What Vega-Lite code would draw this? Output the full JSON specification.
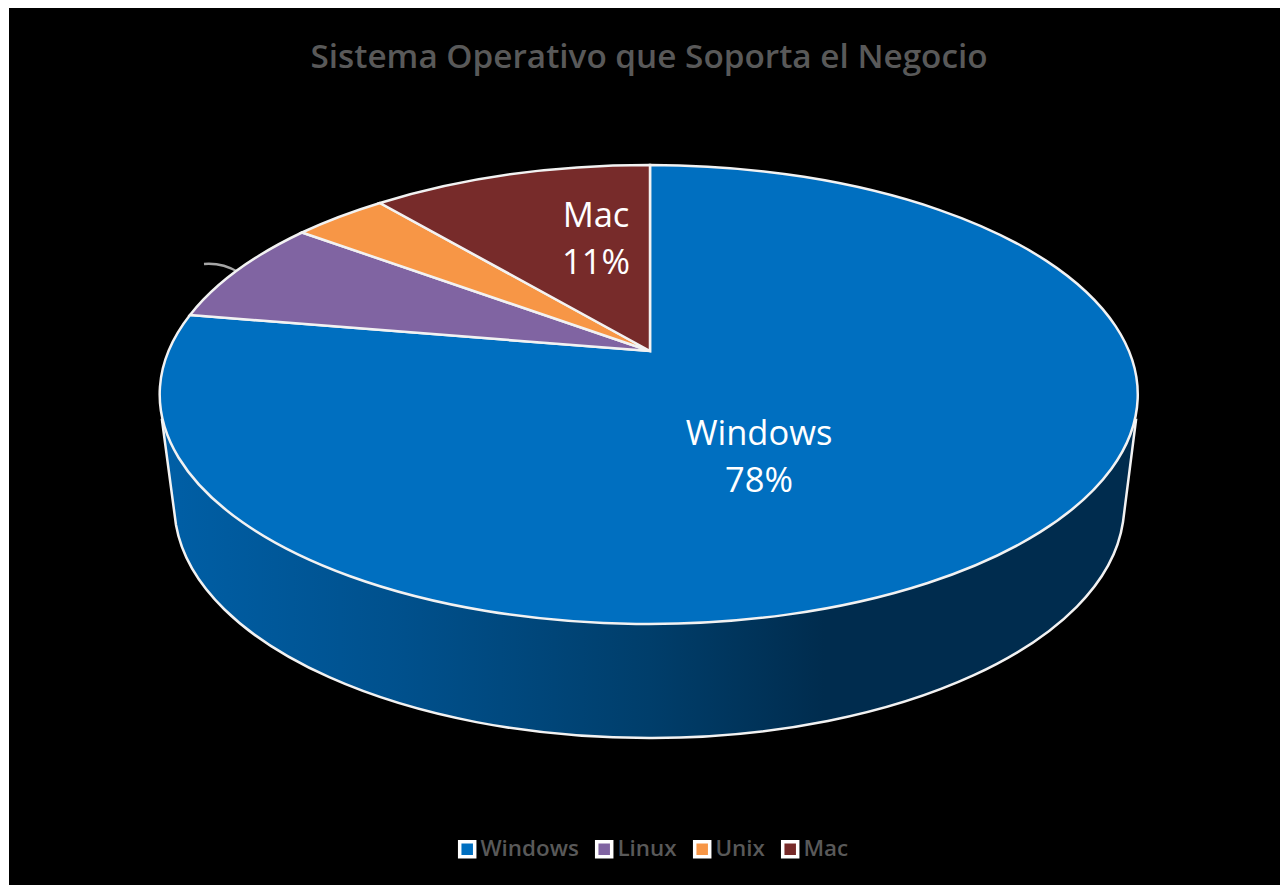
{
  "$schema": "https://vega.github.io/schema/vega-lite/v6.json",
  "width": 1271,
  "height": 877,
  "autosize": {"type": "none"},
  "padding": {"left": 9, "top": 8, "right": 0, "bottom": 0},
  "background": "white",
  "view": {"fill": "black", "stroke": null},
  "title": {
    "text": "Sistema Operativo que Soporta el Negocio",
    "anchor": "middle",
    "dx": 4.5,
    "offset": -83,
    "baseline": "middle",
    "font": "Open Sans",
    "fontSize": 33.3,
    "fontWeight": 600,
    "color": "#595959"
  },
  "data": {
    "values": [
      {"os": "Windows", "share": 0.78},
      {"os": "Linux", "share": 0.08},
      {"os": "Unix", "share": 0.04},
      {"os": "Mac", "share": 0.11}
    ]
  },
  "encoding": {
    "color": {
      "field": "os",
      "type": "nominal",
      "sort": ["Windows", "Linux", "Unix", "Mac"],
      "scale": {
        "domain": ["Windows", "Linux", "Unix", "Mac"],
        "range": ["#006fc0", "#8064a2", "#f79646", "#772b2a"]
      },
      "legend": {
        "title": null,
        "orient": "none",
        "legendX": 447,
        "legendY": 830,
        "direction": "horizontal",
        "columns": 4,
        "symbolType": "square",
        "symbolSize": 225,
        "symbolStrokeWidth": 3.5,
        "symbolStrokeColor": "white",
        "symbolOpacity": 1,
        "labelFont": "Open Sans",
        "labelFontSize": 22.4,
        "labelFontWeight": 600,
        "labelColor": "#595959",
        "labelOffset": 2,
        "columnPadding": 10,
        "labelLimit": 200
      }
    }
  },
  "layer": [
    {
      "transform": [{"filter": "datum.os === 'Windows'"}],
      "mark": {
        "type": "point",
        "size": 4,
        "filled": true,
        "opacity": 1,
        "stroke": "#f2f2f2",
        "strokeWidth": 2.5,
        "fill": {
          "x1": 0, "y1": 0, "x2": 1, "y2": 0,
          "gradient": "linear",
          "stops": [
            {"offset": 0, "color": "#005fa6"},
            {"offset": 0.25, "color": "#00508c"},
            {"offset": 0.5, "color": "#003e6b"},
            {"offset": 0.68, "color": "#002c4e"},
            {"offset": 1, "color": "#002c4e"}
          ]
        },
        "shape": "M-482.5,-26.5 L-468.5,78.5 A475,233 0 0 0 478.5,75.5 L491.5,-26.5 Z"
      },
      "encoding": {"color": {"value": null}}
    },
    {
      "transform": [{"filter": "datum.os === 'Linux'"}],
      "mark": {
        "type": "point",
        "size": 4,
        "filled": false,
        "opacity": 1,
        "stroke": "#a6a6a6",
        "strokeWidth": 2.5,
        "shape": "M-440.5,-182.5 Q-422.5,-184 -406.5,-174.5"
      },
      "encoding": {"color": {"value": "#a6a6a6"}}
    },
    {
      "transform": [{"filter": "datum.os === 'Windows'"}],
      "mark": {"type": "point", "size": 4, "filled": true, "opacity": 1, "stroke": "#f2f2f2", "strokeWidth": 2.5,
        "shape": "M5.5,-95.5 L5.5,-281.5 A489,229.5 0 1 1 -454.5,-131.5 Z"}
    },
    {
      "transform": [{"filter": "datum.os === 'Linux'"}],
      "mark": {"type": "point", "size": 4, "filled": true, "opacity": 1, "stroke": "#f2f2f2", "strokeWidth": 2.5,
        "shape": "M5.5,-95.5 L-454.5,-131.5 A489,229.5 0 0 1 -342.5,-214 Z"}
    },
    {
      "transform": [{"filter": "datum.os === 'Unix'"}],
      "mark": {"type": "point", "size": 4, "filled": true, "opacity": 1, "stroke": "#f2f2f2", "strokeWidth": 2.5,
        "shape": "M5.5,-95.5 L-342.5,-214 A489,229.5 0 0 1 -264.5,-243.5 Z"}
    },
    {
      "transform": [{"filter": "datum.os === 'Mac'"}],
      "mark": {"type": "point", "size": 4, "filled": true, "opacity": 1, "stroke": "#f2f2f2", "strokeWidth": 2.5,
        "shape": "M5.5,-95.5 L-264.5,-243.5 A489,229.5 0 0 1 5.5,-281.5 Z"}
    },
    {
      "transform": [{"filter": "datum.os === 'Windows'"}],
      "mark": {"type": "text", "font": "Open Sans", "fontSize": 34.5, "xOffset": 114.5, "yOffset": -12},
      "encoding": {"text": {"field": "os"}, "color": {"value": "white"}}
    },
    {
      "transform": [{"filter": "datum.os === 'Windows'"}],
      "mark": {"type": "text", "font": "Open Sans", "fontSize": 34.5, "xOffset": 114.5, "yOffset": 35},
      "encoding": {"text": {"field": "share", "format": ".0%"}, "color": {"value": "white"}}
    },
    {
      "transform": [{"filter": "datum.os === 'Mac'"}],
      "mark": {"type": "text", "font": "Open Sans", "fontSize": 34.5, "xOffset": -48.5, "yOffset": -230},
      "encoding": {"text": {"field": "os"}, "color": {"value": "white"}}
    },
    {
      "transform": [{"filter": "datum.os === 'Mac'"}],
      "mark": {"type": "text", "font": "Open Sans", "fontSize": 34.5, "xOffset": -48.5, "yOffset": -183},
      "encoding": {"text": {"field": "share", "format": ".0%"}, "color": {"value": "white"}}
    }
  ]
}
